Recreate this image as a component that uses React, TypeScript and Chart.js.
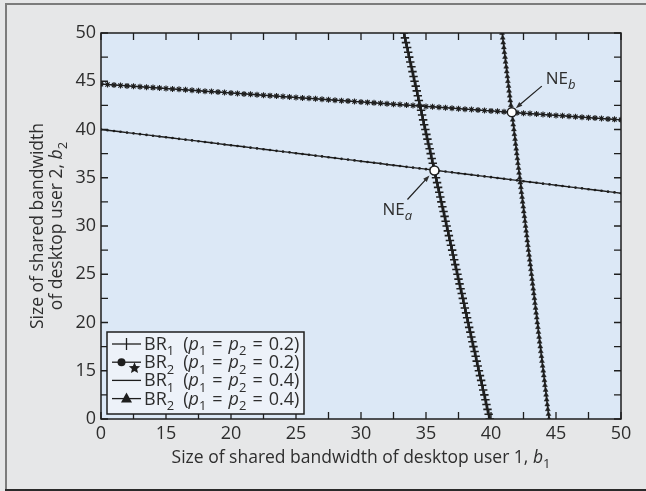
import React, { useEffect, useRef } from 'react';
import { Chart, registerables, LinearScale } from 'chart.js';

Chart.register(...registerables);

// ---------- data ----------
const AXIS_TICKS = [0, 15, 20, 25, 30, 35, 40, 45, 50];

// b2 values where the BR1 curves (b1 as a function of b2) were read
const B2_GRID = [
  50, 49.5, 49, 48.5, 48, 47.5, 47, 46.5, 46, 45.5, 45, 44.5, 44, 43.5, 43, 42.5, 42, 41.5, 41, 40.5,
  40, 39.5, 39, 38.5, 38, 37.5, 37, 36.5, 36, 35.5, 35, 34.5, 34, 33.5, 33, 32.5, 32, 31.5, 31, 30.5,
  30, 29.5, 29, 28.5, 28, 27.5, 27, 26.5, 26, 25.5, 25, 24.5, 24, 23.5, 23, 22.5, 22, 21.5, 21, 20.5,
  20, 19.5, 19, 18.5, 18, 17.5, 17, 16.5, 16, 15.5, 15, 13.5, 12, 10.5, 9, 7.5, 6, 4.5, 3, 1.5, 0,
];
// BR1, p1 = p2 = 0.2  (b1 values, "+" markers)
const BR1_P02 = [
  33.30, 33.38, 33.46, 33.55, 33.63, 33.71, 33.79, 33.88, 33.96, 34.04, 34.12, 34.21, 34.29, 34.37, 34.45, 34.53, 34.62, 34.70, 34.78, 34.86,
  34.95, 35.03, 35.11, 35.19, 35.28, 35.36, 35.44, 35.52, 35.61, 35.69, 35.77, 35.85, 35.93, 36.02, 36.10, 36.18, 36.26, 36.35, 36.43, 36.51,
  36.59, 36.68, 36.76, 36.84, 36.92, 37.01, 37.09, 37.17, 37.25, 37.34, 37.42, 37.50, 37.58, 37.66, 37.75, 37.83, 37.91, 37.99, 38.08, 38.16,
  38.24, 38.32, 38.41, 38.49, 38.57, 38.65, 38.74, 38.82, 38.90, 38.98, 39.07, 39.15, 39.24, 39.32, 39.40, 39.49, 39.57, 39.65, 39.73, 39.82, 39.90,
];
// BR1, p1 = p2 = 0.4  (b1 values, triangle markers)
const BR1_P04 = [
  40.85, 40.90, 40.94, 40.99, 41.03, 41.08, 41.12, 41.17, 41.21, 41.26, 41.30, 41.35, 41.39, 41.44, 41.48, 41.53, 41.57, 41.62, 41.67, 41.71,
  41.76, 41.80, 41.85, 41.89, 41.94, 41.98, 42.03, 42.07, 42.12, 42.16, 42.21, 42.25, 42.30, 42.34, 42.39, 42.43, 42.48, 42.52, 42.57, 42.61,
  42.66, 42.70, 42.75, 42.79, 42.84, 42.88, 42.93, 42.98, 43.02, 43.07, 43.11, 43.16, 43.20, 43.25, 43.29, 43.34, 43.38, 43.43, 43.47, 43.52,
  43.56, 43.61, 43.65, 43.70, 43.74, 43.79, 43.83, 43.88, 43.92, 43.97, 44.02, 44.06, 44.11, 44.15, 44.20, 44.24, 44.28, 44.33, 44.37, 44.42, 44.46,
];

// b1 values where the BR2 curves (b2 as a function of b1) were read
const B1_GRID = [
  0, 1.5, 3, 4.5, 6, 7.5, 9, 10.5, 12, 13.5, 15, 15.5, 16, 16.5, 17, 17.5, 18, 18.5, 19, 19.5,
  20, 20.5, 21, 21.5, 22, 22.5, 23, 23.5, 24, 24.5, 25, 25.5, 26, 26.5, 27, 27.5, 28, 28.5, 29, 29.5,
  30, 30.5, 31, 31.5, 32, 32.5, 33, 33.5, 34, 34.5, 35, 35.5, 36, 36.5, 37, 37.5, 38, 38.5, 39, 39.5,
  40, 40.5, 41, 41.5, 42, 42.5, 43, 43.5, 44, 44.5, 45, 45.5, 46, 46.5, 47, 47.5, 48, 48.5, 49, 49.5, 50,
];
// BR2, p1 = p2 = 0.2  (b2 values, lower line)
const BR2_P02 = [
  40.00, 39.92, 39.84, 39.76, 39.68, 39.60, 39.52, 39.44, 39.36, 39.28, 39.20, 39.12, 39.03, 38.95, 38.87, 38.79, 38.70, 38.62, 38.54, 38.45,
  38.37, 38.29, 38.21, 38.12, 38.04, 37.96, 37.87, 37.79, 37.71, 37.63, 37.54, 37.46, 37.38, 37.29, 37.21, 37.13, 37.05, 36.96, 36.88, 36.80,
  36.71, 36.63, 36.55, 36.47, 36.38, 36.30, 36.22, 36.13, 36.05, 35.97, 35.89, 35.80, 35.72, 35.64, 35.56, 35.47, 35.39, 35.31, 35.22, 35.14,
  35.06, 34.97, 34.89, 34.81, 34.73, 34.64, 34.56, 34.48, 34.39, 34.31, 34.23, 34.14, 34.06, 33.98, 33.90, 33.81, 33.73, 33.65, 33.56, 33.48, 33.40,
];
// BR2, p1 = p2 = 0.4  (b2 values, upper line with star markers)
const BR2_P04 = [
  44.70, 44.66, 44.61, 44.57, 44.52, 44.48, 44.43, 44.39, 44.34, 44.30, 44.25, 44.20, 44.16, 44.11, 44.06, 44.02, 43.97, 43.93, 43.88, 43.83,
  43.79, 43.74, 43.69, 43.65, 43.60, 43.55, 43.51, 43.46, 43.41, 43.37, 43.32, 43.27, 43.23, 43.18, 43.13, 43.09, 43.04, 42.99, 42.95, 42.90,
  42.86, 42.81, 42.76, 42.72, 42.67, 42.62, 42.58, 42.53, 42.48, 42.44, 42.39, 42.35, 42.30, 42.25, 42.21, 42.16, 42.11, 42.07, 42.02, 41.97,
  41.93, 41.88, 41.83, 41.79, 41.74, 41.69, 41.65, 41.60, 41.56, 41.51, 41.46, 41.42, 41.37, 41.32, 41.28, 41.23, 41.18, 41.14, 41.09, 41.05, 41.00,
];

// Nash equilibria
const NE_B1 = [35.65, 41.6];
const NE_B2 = [35.75, 41.8];
const NE_SUBS = ['a', 'b'];

// legend entries (BR index, probability)
const LEGEND_BR = ['1', '2', '1', '2'];
const LEGEND_P = ['0.2', '0.2', '0.4', '0.4'];

const X_TITLE = 'Size of shared bandwidth of desktop user 1, ';
const Y_TITLE_1 = 'Size of shared bandwidth';
const Y_TITLE_2 = 'of desktop user 2, ';

// ---------- broken axis scale (0..15 compressed into one tick interval) ----------
function toUnit(v: number) {
  return v < 15 ? v / 15 : 1 + (v - 15) / 5;
}
function fromUnit(u: number) {
  return u < 1 ? u * 15 : 15 + (u - 1) * 5;
}

class BrokenLinearScale extends (LinearScale as any) {
  static id = 'brokenLinear';
  static defaults = {};
  buildTicks() {
    return AXIS_TICKS.map((v) => ({ value: v }));
  }
  getPixelForValue(v: number) {
    return (this as any).getPixelForDecimal(toUnit(v) / (AXIS_TICKS.length - 1));
  }
  getValueForPixel(p: number) {
    return fromUnit((this as any).getDecimalForPixel(p) * (AXIS_TICKS.length - 1));
  }
}
Chart.register(BrokenLinearScale as any);

const FONT = '"Open Sans", "Noto Sans", sans-serif';
const INK = '#1e1e1e';
const TEXT = '#2e2e2e';
const TITLE_SIZE = 17.5;
const LEGEND_SIZE = 18;
const NE_SIZE = 17;

type Seg = { t: string; it?: boolean; sub?: boolean };

function richWidth(ctx: CanvasRenderingContext2D, segs: Seg[], size: number) {
  let w = 0;
  for (const s of segs) {
    const fs = s.sub ? Math.round(size * 0.74) : size;
    ctx.font = `${s.it ? 'italic ' : ''}${fs}px ${FONT}`;
    w += ctx.measureText(s.t).width;
  }
  return w;
}

function drawRich(ctx: CanvasRenderingContext2D, segs: Seg[], x: number, y: number, size: number) {
  let cx = x;
  ctx.textBaseline = 'alphabetic';
  ctx.textAlign = 'left';
  for (const s of segs) {
    const fs = s.sub ? Math.round(size * 0.74) : size;
    ctx.font = `${s.it ? 'italic ' : ''}${fs}px ${FONT}`;
    ctx.fillText(s.t, cx, s.sub ? y + size * 0.3 : y);
    cx += ctx.measureText(s.t).width;
  }
  return cx - x;
}

function drawStar(ctx: CanvasRenderingContext2D, x: number, y: number, r: number) {
  ctx.beginPath();
  for (let i = 0; i < 10; i++) {
    const rr = i % 2 === 0 ? r : r * 0.45;
    const ang = -Math.PI / 2 + (i * Math.PI) / 5;
    const px = x + rr * Math.cos(ang);
    const py = y + rr * Math.sin(ang);
    if (i === 0) ctx.moveTo(px, py);
    else ctx.lineTo(px, py);
  }
  ctx.closePath();
  ctx.fill();
}

function drawArrow(ctx: CanvasRenderingContext2D, x0: number, y0: number, x1: number, y1: number) {
  const ang = Math.atan2(y1 - y0, x1 - x0);
  const hl = 7;
  ctx.beginPath();
  ctx.moveTo(x0, y0);
  ctx.lineTo(x1 - Math.cos(ang) * hl * 0.8, y1 - Math.sin(ang) * hl * 0.8);
  ctx.stroke();
  ctx.beginPath();
  ctx.moveTo(x1, y1);
  ctx.lineTo(x1 - hl * Math.cos(ang - 0.35), y1 - hl * Math.sin(ang - 0.35));
  ctx.lineTo(x1 - hl * Math.cos(ang + 0.35), y1 - hl * Math.sin(ang + 0.35));
  ctx.closePath();
  ctx.fill();
}

const decorPlugin = {
  id: 'decor',
  beforeDraw(chart: any) {
    const { ctx, width, height, chartArea: a } = chart;
    ctx.save();
    ctx.fillStyle = '#e6e7e8';
    ctx.fillRect(0, 0, width, height);
    ctx.fillStyle = '#7c7c7c';
    ctx.fillRect(5, 3, 2, height - 3);
    ctx.fillRect(5, 3, width - 5, 2);
    ctx.fillStyle = '#2a2a2a';
    ctx.fillRect(5, height - 2, width - 5, 2);
    ctx.fillStyle = '#dce8f6';
    ctx.fillRect(a.left, a.top, a.right - a.left, a.bottom - a.top);
    ctx.restore();
  },
  afterDraw(chart: any) {
    const { ctx, chartArea: a } = chart;
    const xs = chart.scales.x;
    const ys = chart.scales.y;
    ctx.save();

    // frame
    ctx.strokeStyle = INK;
    ctx.lineWidth = 1.5;
    ctx.strokeRect(a.left, a.top, a.right - a.left, a.bottom - a.top);

    // inward ticks (major + midpoints), all four sides
    const tickLen = 7;
    const withMid = (p: number[]) => {
      const out: number[] = [];
      for (let i = 0; i < p.length; i++) {
        out.push(p[i]);
        if (i < p.length - 1) out.push((p[i] + p[i + 1]) / 2);
      }
      return out;
    };
    const xp = withMid(xs.ticks.map((t: any) => xs.getPixelForValue(t.value)));
    const yp = withMid(ys.ticks.map((t: any) => ys.getPixelForValue(t.value)));
    ctx.lineWidth = 1.3;
    ctx.beginPath();
    for (const px of xp) {
      ctx.moveTo(px, a.bottom);
      ctx.lineTo(px, a.bottom - tickLen);
      ctx.moveTo(px, a.top);
      ctx.lineTo(px, a.top + tickLen);
    }
    for (const py of yp) {
      ctx.moveTo(a.left, py);
      ctx.lineTo(a.left + tickLen, py);
      ctx.moveTo(a.right, py);
      ctx.lineTo(a.right - tickLen, py);
    }
    ctx.stroke();

    // legend box
    const lx = a.left + 6;
    const ly = a.bottom - 87;
    const lw = 197;
    const lh = 82;
    ctx.fillStyle = '#edf2f9';
    ctx.fillRect(lx, ly, lw, lh);
    ctx.strokeStyle = INK;
    ctx.lineWidth = 1.5;
    ctx.strokeRect(lx, ly, lw, lh);
    for (let i = 0; i < LEGEND_BR.length; i++) {
      const cy = ly + 12 + i * 18.2;
      const sx0 = lx + 5;
      const sx1 = lx + 34;
      const mx = (sx0 + sx1) / 2;
      ctx.strokeStyle = INK;
      ctx.fillStyle = INK;
      ctx.lineWidth = 1.3;
      ctx.beginPath();
      ctx.moveTo(sx0, cy);
      ctx.lineTo(sx1, cy);
      ctx.stroke();
      if (i === 0) {
        ctx.beginPath();
        ctx.moveTo(mx, cy - 6);
        ctx.lineTo(mx, cy + 6);
        ctx.stroke();
      } else if (i === 1) {
        ctx.beginPath();
        ctx.arc(mx - 5, cy, 4, 0, Math.PI * 2);
        ctx.fill();
        drawStar(ctx, mx + 8, cy + 6, 6);
      } else if (i === 3) {
        ctx.beginPath();
        ctx.moveTo(mx, cy - 6);
        ctx.lineTo(mx + 5.5, cy + 4);
        ctx.lineTo(mx - 5.5, cy + 4);
        ctx.closePath();
        ctx.fill();
      }
      ctx.fillStyle = TEXT;
      drawRich(
        ctx,
        [
          { t: 'BR' },
          { t: LEGEND_BR[i], sub: true },
          { t: '\u2002(' },
          { t: 'p', it: true },
          { t: '1', sub: true },
          { t: '\u2004=\u2004' },
          { t: 'p', it: true },
          { t: '2', sub: true },
          { t: '\u2004=\u2004' + LEGEND_P[i] + ')' },
        ],
        lx + 37,
        cy + 6,
        LEGEND_SIZE,
      );
    }

    // NE annotations
    ctx.fillStyle = TEXT;
    ctx.strokeStyle = INK;
    ctx.lineWidth = 1.2;
    for (let i = 0; i < NE_B1.length; i++) {
      const px = xs.getPixelForValue(NE_B1[i]);
      const py = ys.getPixelForValue(NE_B2[i]);
      if (i === 0) {
        drawArrow(ctx, px - 27, py + 29, px - 5, py + 5);
        ctx.fillStyle = TEXT;
        drawRich(ctx, [{ t: 'NE' }, { t: NE_SUBS[i], it: true, sub: true }], px - 52, py + 44, NE_SIZE);
      } else {
        drawArrow(ctx, px + 30, py - 26, px + 4, py - 4);
        ctx.fillStyle = TEXT;
        drawRich(ctx, [{ t: 'NE' }, { t: NE_SUBS[i], it: true, sub: true }], px + 34, py - 28, NE_SIZE);
      }
    }

    // x axis title
    ctx.fillStyle = TEXT;
    const xSegs: Seg[] = [{ t: X_TITLE }, { t: 'b', it: true }, { t: '1', sub: true }];
    const xw = richWidth(ctx, xSegs, TITLE_SIZE);
    drawRich(ctx, xSegs, (a.left + a.right) / 2 - xw / 2, 463, TITLE_SIZE);

    // y axis title (two lines, rotated)
    const cyT = (a.top + a.bottom) / 2;
    const l1: Seg[] = [{ t: Y_TITLE_1 }];
    const l2: Seg[] = [{ t: Y_TITLE_2 }, { t: 'b', it: true }, { t: '2', sub: true }];
    [[l1, 43], [l2, 62]].forEach(([segs, bx]: any) => {
      ctx.save();
      ctx.translate(bx, cyT);
      ctx.rotate(-Math.PI / 2);
      const w = richWidth(ctx, segs, TITLE_SIZE);
      drawRich(ctx, segs, -w / 2, 0, TITLE_SIZE);
      ctx.restore();
    });

    ctx.restore();
  },
};

export default function App() {
  const ref = useRef<HTMLCanvasElement | null>(null);
  useEffect(() => {
    if (!ref.current) return;
    const toPts = (xs: number[], ys: number[]) => xs.map((x, i) => ({ x, y: ys[i] }));
    const tickFont = { family: FONT, size: 18 };
    const chart = new Chart(ref.current, {
      type: 'scatter',
      data: {
        datasets: [
          {
            label: 'NE',
            data: toPts(NE_B1, NE_B2),
            showLine: false,
            pointStyle: 'circle',
            pointRadius: 4.5,
            pointBackgroundColor: '#ffffff',
            pointBorderColor: INK,
            pointBorderWidth: 1.5,
          },
          {
            label: 'BR1 (p1 = p2 = 0.2)',
            data: toPts(BR1_P02, B2_GRID),
            showLine: true,
            borderColor: INK,
            borderWidth: 2.2,
            pointStyle: 'cross',
            pointRadius: 4.2,
            pointBorderColor: INK,
            pointBorderWidth: 1.6,
          },
          {
            label: 'BR2 (p1 = p2 = 0.2)',
            data: toPts(B1_GRID, BR2_P02),
            showLine: true,
            borderColor: INK,
            borderWidth: 1.4,
            pointStyle: 'circle',
            pointRadius: 1.3,
            pointBackgroundColor: INK,
            pointBorderColor: INK,
            pointBorderWidth: 0,
          },
          {
            label: 'BR1 (p1 = p2 = 0.4)',
            data: toPts(BR1_P04, B2_GRID),
            showLine: true,
            borderColor: INK,
            borderWidth: 1.4,
            pointStyle: 'triangle',
            pointRadius: 2.8,
            pointBackgroundColor: INK,
            pointBorderColor: INK,
            pointBorderWidth: 0.5,
          },
          {
            label: 'BR2 (p1 = p2 = 0.4)',
            data: toPts(B1_GRID, BR2_P04),
            showLine: true,
            borderColor: INK,
            borderWidth: 1.4,
            pointStyle: 'star',
            pointRadius: 3,
            pointBorderColor: INK,
            pointBorderWidth: 1.1,
          },
        ],
      },
      options: {
        animation: false,
        responsive: false,
        devicePixelRatio: 1,
        layout: { padding: { top: 33, right: 25, left: 0, bottom: 0 } },
        plugins: { legend: { display: false }, tooltip: { enabled: false } },
        events: [],
        scales: {
          x: {
            type: 'brokenLinear' as any,
            position: 'bottom',
            min: 0,
            max: 50,
            grid: { display: false, drawTicks: false },
            border: { display: false },
            ticks: {
              font: tickFont,
              color: TEXT,
              padding: 4,
              autoSkip: false,
              maxRotation: 0,
              callback: (v: any) => String(v),
            },
            afterFit: (s: any) => {
              s.height = 72;
            },
          },
          y: {
            type: 'brokenLinear' as any,
            position: 'left',
            min: 0,
            max: 50,
            grid: { display: false, drawTicks: false },
            border: { display: false },
            ticks: {
              font: tickFont,
              color: TEXT,
              padding: 5,
              autoSkip: false,
              callback: (v: any) => String(v),
            },
            afterFit: (s: any) => {
              s.width = 101;
            },
          },
        },
      } as any,
      plugins: [decorPlugin as any],
    });
    return () => chart.destroy();
  }, []);

  return (
    <div style={{ position: 'absolute', left: 0, top: 0, width: 646, height: 491 }}>
      <canvas ref={ref} width={646} height={491} style={{ display: 'block', width: 646, height: 491 }} />
    </div>
  );
}
